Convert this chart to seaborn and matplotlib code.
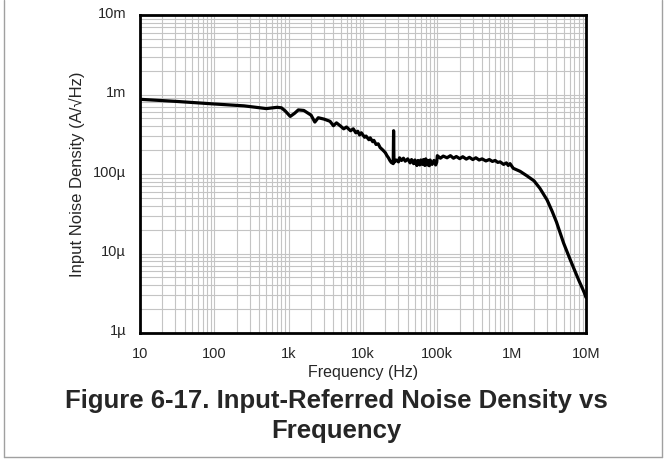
import pandas as pd
import matplotlib.pyplot as plt
import matplotlib.ticker as mticker
import matplotlib.transforms as mtrans
import seaborn as sns

# values (Hz, A/rtHz)
freq = [10, 30, 100, 250, 500, 700, 800, 900, 1050, 1200, 1350, 1600, 2000, 2250,
        2500, 3000, 3600, 4000, 4400, 5000, 5500, 6000, 6800, 7400, 8000, 8500, 9000,
        9500, 10500, 11000, 12000, 12500, 13500, 14000, 15000, 16000, 17000, 18000,
        19000, 20000, 21000, 22000, 23000, 24000, 25500, 25800, 26100,
        28000, 30000, 31000, 33000, 35000, 37000, 40000, 43000, 45000, 48000, 50000,
        53000, 55000, 58000, 60000, 63000, 65000, 68000, 70000, 73000, 75000, 78000,
        80000, 85000, 90000, 95000, 98000, 100000, 110000, 120000, 135000, 150000,
        165000, 180000, 200000, 220000, 245000, 270000, 300000, 330000, 365000,
        400000, 450000, 500000, 550000, 600000, 650000, 700000, 780000, 850000,
        900000, 950000, 1.05e6, 1.3e6, 1.6e6, 2.0e6, 2.4e6, 3.0e6, 3.5e6, 4.0e6,
        5.0e6, 6.0e6, 7.0e6, 8.0e6, 9.0e6, 9.5e6, 10e6]
noise = [0.87e-3, 0.82e-3, 0.76e-3, 0.72e-3, 0.665e-3, 0.69e-3, 0.68e-3, 0.62e-3,
         0.53e-3, 0.58e-3, 0.64e-3, 0.63e-3, 0.55e-3, 0.45e-3, 0.51e-3, 0.49e-3,
         0.46e-3, 0.405e-3, 0.44e-3, 0.40e-3, 0.37e-3, 0.39e-3, 0.35e-3, 0.37e-3,
         0.33e-3, 0.345e-3, 0.31e-3, 0.33e-3, 0.29e-3, 0.30e-3, 0.27e-3, 0.285e-3,
         0.255e-3, 0.265e-3, 0.235e-3, 0.24e-3, 0.215e-3, 0.205e-3, 0.195e-3,
         0.185e-3, 0.17e-3, 0.16e-3, 0.148e-3, 0.14e-3, 0.135e-3, 0.35e-3, 0.14e-3,
         0.15e-3, 0.142e-3, 0.16e-3, 0.148e-3, 0.158e-3, 0.145e-3, 0.155e-3,
         0.138e-3, 0.152e-3, 0.135e-3, 0.15e-3, 0.128e-3, 0.148e-3, 0.13e-3,
         0.15e-3, 0.132e-3, 0.152e-3, 0.128e-3, 0.155e-3, 0.13e-3, 0.148e-3,
         0.127e-3, 0.15e-3, 0.132e-3, 0.148e-3, 0.13e-3, 0.14e-3, 0.17e-3, 0.158e-3,
         0.168e-3, 0.16e-3, 0.17e-3, 0.158e-3, 0.166e-3, 0.156e-3, 0.165e-3,
         0.154e-3, 0.162e-3, 0.152e-3, 0.16e-3, 0.15e-3, 0.155e-3, 0.146e-3,
         0.152e-3, 0.144e-3, 0.148e-3, 0.14e-3, 0.142e-3, 0.132e-3, 0.138e-3,
         0.128e-3, 0.135e-3, 0.118e-3, 0.108e-3, 0.095e-3, 0.082e-3, 0.066e-3,
         0.047e-3, 0.034e-3, 0.025e-3, 0.0135e-3, 0.0088e-3, 0.0062e-3, 0.0046e-3,
         0.0036e-3, 0.0032e-3, 0.0028e-3]

x_ticks = [10, 100, 1e3, 1e4, 1e5, 1e6, 1e7]
x_labels = ["10", "100", "1k", "10k", "100k", "1M", "10M"]
y_ticks = [1e-6, 1e-5, 1e-4, 1e-3, 1e-2]
y_labels = ["1\u00b5", "10\u00b5", "100\u00b5", "1m", "10m"]

df = pd.DataFrame({"freq": freq, "noise": noise})

sns.set_style("white")
plt.rcParams["font.family"] = ["Liberation Sans", "DejaVu Sans"]

fig = plt.figure(figsize=(6.65, 4.59), dpi=100)
ax = fig.add_axes([140 / 665, 1 - 333 / 459, 446 / 665, 318 / 459])

sns.lineplot(data=df, x="freq", y="noise", color="black", linewidth=2.3,
             ax=ax, sort=False, zorder=3)

ax.set_xscale("log")
ax.set_yscale("log")
ax.set_xlim(10, 1e7)
ax.set_ylim(1e-6, 1e-2)
ax.set_xticks(x_ticks)
ax.set_xticklabels(x_labels, fontsize=10.5)
ax.set_yticks(y_ticks)
ax.set_yticklabels(y_labels, fontsize=10.5)
ax.xaxis.set_minor_locator(mticker.LogLocator(base=10, subs=range(2, 10), numticks=20))
ax.yaxis.set_minor_locator(mticker.LogLocator(base=10, subs=range(2, 10), numticks=20))
ax.xaxis.set_minor_formatter(mticker.NullFormatter())
ax.yaxis.set_minor_formatter(mticker.NullFormatter())
ax.tick_params(which="both", length=0)
ax.tick_params(axis="x", pad=10)
ax.tick_params(axis="y", pad=10)
ax.grid(which="both", color="#c4c4c4", linewidth=0.8)

# y labels sit a little above their gridline in the original
shift = mtrans.ScaledTranslation(0, 3 / 100, fig.dpi_scale_trans)
for lab in ax.get_yticklabels():
    lab.set_transform(lab.get_transform() + shift)

for s in ax.spines.values():
    s.set_color("black")
    s.set_linewidth(2)

ax.set_xlabel("Frequency (Hz)", fontsize=11.5, labelpad=3)
ax.set_ylabel("Input Noise Density (A/\u221aHz)", fontsize=12, labelpad=6)

fig.text(336 / 665, 1 - 401 / 459, "Figure 6-17. Input-Referred Noise Density vs",
         ha="center", va="center", fontsize=18.5, fontweight="bold")
fig.text(336 / 665, 1 - 431 / 459, "Frequency",
         ha="center", va="center", fontsize=18.5, fontweight="bold")

# thin gray frame around the figure block
frame = dict(color="#a0a0a0", linewidth=1, transform=fig.transFigure)
fig.add_artist(plt.Line2D([4 / 665, 4 / 665], [2 / 459, 1], **frame))
fig.add_artist(plt.Line2D([4 / 665, 662 / 665], [2 / 459, 2 / 459], **frame))
fig.add_artist(plt.Line2D([662 / 665, 662 / 665], [2 / 459, 1], **frame))

fig.savefig("out.png", dpi=100)
